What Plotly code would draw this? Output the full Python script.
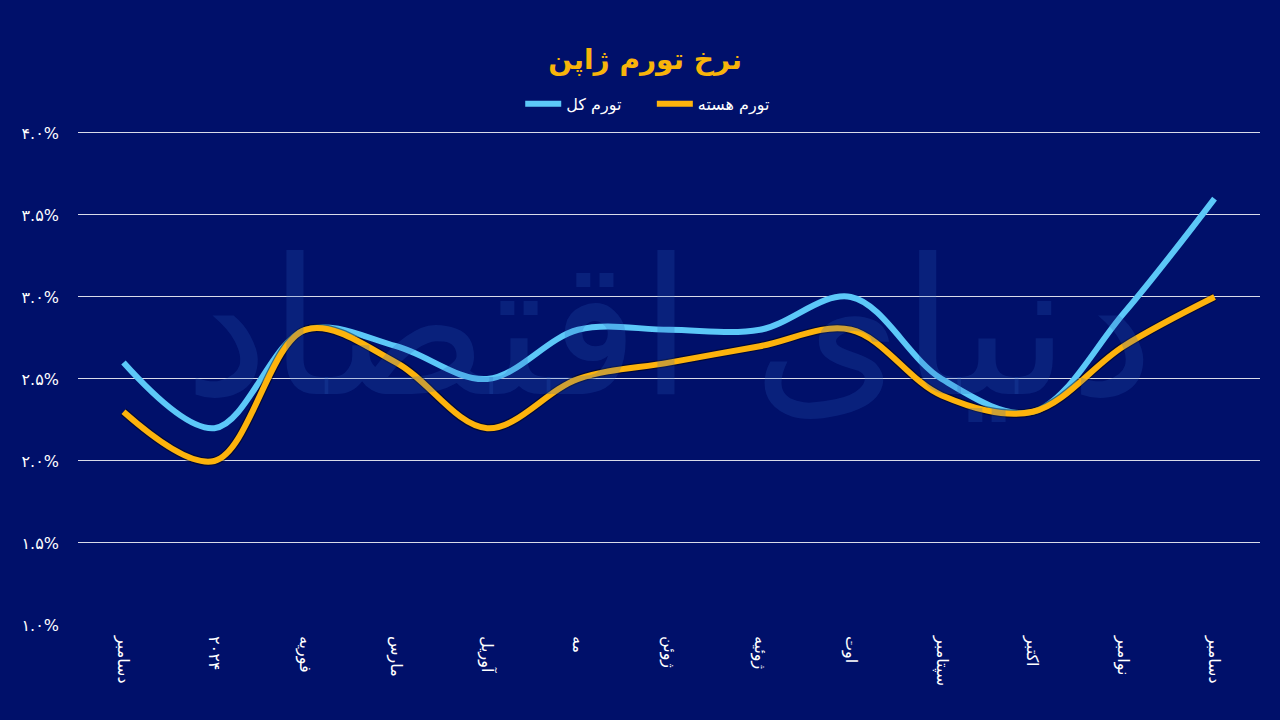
import plotly.graph_objects as go

months = ["دسامبر", "۲۰۲۴", "فوریه", "مارس", "آوریل", "مه", "ژوئن",
          "ژوئیه", "اوت", "سپتامبر", "اکتبر", "نوامبر", "دسامبر"]
headline = [2.6, 2.2, 2.8, 2.7, 2.5, 2.8, 2.8, 2.8, 3.0, 2.5, 2.3, 2.9, 3.6]
core = [2.3, 2.0, 2.8, 2.6, 2.2, 2.5, 2.6, 2.7, 2.8, 2.4, 2.3, 2.7, 3.0]
ytick_vals = [1.0, 1.5, 2.0, 2.5, 3.0, 3.5, 4.0]
ytick_text = ["۱.۰%", "۱.۵%", "۲.۰%", "۲.۵%", "۳.۰%", "۳.۵%", "۴.۰%"]

x = list(range(len(months)))
BG = "#00106a"
FONT = "DejaVu Sans, Noto Sans, sans-serif"

fig = go.Figure()
fig.add_trace(go.Scatter(x=x, y=headline, mode="lines", name="تورم کل     ",
                         line=dict(color="#5cc8f8", width=6, shape="spline", smoothing=1.0)))
fig.add_trace(go.Scatter(x=x, y=core, mode="lines", showlegend=False, hoverinfo="skip",
                         line=dict(color="rgba(0,0,0,0.45)", width=8.5, shape="spline", smoothing=1.0)))
fig.add_trace(go.Scatter(x=x, y=core, mode="lines", name="تورم هسته",
                         line=dict(color="#fdb30c", width=6, shape="spline", smoothing=1.0)))

fig.add_annotation(text="دنیای اقتصاد", x=0.5, y=0.6, xref="paper", yref="paper",
                   showarrow=False, font=dict(family=FONT, size=190, color="rgba(40,95,190,0.22)"))

fig.update_layout(
    width=1280, height=720,
    paper_bgcolor=BG, plot_bgcolor=BG,
    margin=dict(l=78, r=20, t=131, b=95),
    title=dict(text="<b>نرخ تورم ژاپن</b>", x=0.504, xanchor="center", y=0.918, yanchor="middle",
               font=dict(family=FONT, size=28, color="#f8b40a")),
    legend=dict(orientation="h", x=0.482, xanchor="center", y=1.055, yanchor="middle",
                font=dict(family=FONT, size=16, color="white"), bgcolor="rgba(0,0,0,0)",
                traceorder="normal", itemwidth=36),
    xaxis=dict(tickmode="array", tickvals=x, ticktext=months, range=[-0.5, len(months) - 0.5],
               tickangle=90, showgrid=False, zeroline=False, showline=False,
               tickfont=dict(family=FONT, size=16, color="white"), ticklabelstandoff=10),
    yaxis=dict(tickmode="array", tickvals=ytick_vals, ticktext=ytick_text, range=[1.0, 4.012],
               showgrid=True, gridcolor="rgba(255,255,255,0.85)", gridwidth=1,
               zeroline=False, showline=False,
               tickfont=dict(family=FONT, size=16, color="white"), ticklabelstandoff=18),
    showlegend=True,
)

fig.write_html("out.html")
